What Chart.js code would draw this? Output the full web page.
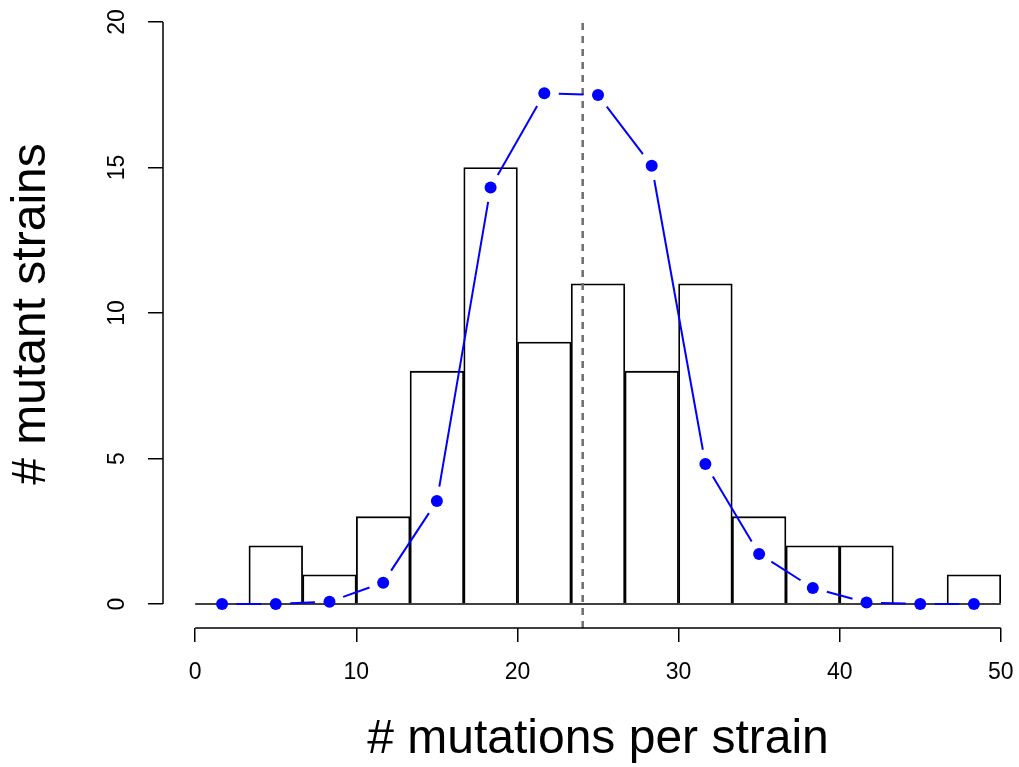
<!DOCTYPE html>
<html>
<head>
<meta charset="utf-8">
<title>Mutations per strain</title>
<script src="https://cdn.jsdelivr.net/npm/chart.js@4.4.1/dist/chart.umd.min.js"></script>
<style>
  html, body { margin: 0; padding: 0; background: #fff; overflow: hidden; }
  canvas { display: block; }
</style>
</head>
<body>
<canvas id="histChart" width="1033" height="767"></canvas>
<script>
// Histogram breaks and counts per bin
const breaks = [0, 3.333, 6.667, 10, 13.333, 16.667, 20, 23.333, 26.667, 30, 33.333, 36.667, 40, 43.333, 46.667, 50];
const counts = [0, 2, 1, 3, 8, 15, 9, 11, 8, 11, 3, 2, 2, 0, 1];

// Expected counts (fitted curve) at each bin midpoint
const expected = [0, 0, 0.08, 0.73, 3.54, 14.31, 17.55, 17.49, 15.06, 4.81, 1.72, 0.55, 0.05, 0, 0];

// Mean number of mutations (dashed line)
const meanMutations = 24.05;

// Axis ticks
const xTicks = [0, 10, 20, 30, 40, 50];
const yTicks = [0, 5, 10, 15, 20];

const FONT = '"Liberation Sans", Arial, Helvetica, sans-serif';
const GAP = 14.5; // gap around points, like R type="b"

const mids = counts.map((c, i) => (breaks[i] + breaks[i + 1]) / 2);

// Draw axis lines from first to last tick, and the gapped blue line
const rStylePlugin = {
    id: 'rStyle',
    afterDatasetsDraw(chart) {
        const idx = chart.data.datasets.findIndex(d => d.label === 'expected');
        const pts = chart.getDatasetMeta(idx).data;
        const ctx = chart.ctx;
        ctx.save();
        ctx.strokeStyle = '#0000ff';
        ctx.lineWidth = 2;
        for (let i = 0; i < pts.length - 1; i++) {
            const a = pts[i], b = pts[i + 1];
            const dx = b.x - a.x, dy = b.y - a.y;
            const len = Math.hypot(dx, dy);
            if (len <= 2 * GAP) continue;
            const ux = dx / len, uy = dy / len;
            ctx.beginPath();
            ctx.moveTo(a.x + ux * GAP, a.y + uy * GAP);
            ctx.lineTo(b.x - ux * GAP, b.y - uy * GAP);
            ctx.stroke();
        }
        ctx.restore();
    },
    afterDraw(chart) {
        const {ctx, chartArea, scales} = chart;
        ctx.save();
        ctx.strokeStyle = '#000';
        ctx.lineWidth = 1.5;
        ctx.beginPath();
        ctx.moveTo(scales.x.getPixelForValue(xTicks[0]), chartArea.bottom);
        ctx.lineTo(scales.x.getPixelForValue(xTicks[xTicks.length - 1]), chartArea.bottom);
        ctx.moveTo(chartArea.left, scales.y.getPixelForValue(yTicks[0]));
        ctx.lineTo(chartArea.left, scales.y.getPixelForValue(yTicks[yTicks.length - 1]));
        ctx.stroke();
        ctx.restore();
    }
};

new Chart(document.getElementById('histChart'), {
    data: {
        datasets: [
            {
                type: 'line',
                label: 'expected',
                data: mids.map((m, i) => ({x: m, y: expected[i]})),
                showLine: false,
                pointRadius: 6,
                pointBorderWidth: 0,
                pointBackgroundColor: '#0000ff',
                clip: false,
                order: 0
            },
            {
                type: 'line',
                label: 'mean',
                data: [{x: meanMutations, y: -0.825}, {x: meanMutations, y: yTicks[yTicks.length - 1]}],
                borderColor: '#6e6e6e',
                borderWidth: 2.5,
                borderDash: [7, 6],
                pointRadius: 0,
                order: 1
            },
            {
                type: 'line',
                label: 'baseline',
                data: [{x: breaks[0], y: 0}, {x: breaks[breaks.length - 1], y: 0}],
                borderColor: '#000',
                borderWidth: 1.5,
                pointRadius: 0,
                order: 2
            },
            {
                type: 'bar',
                label: 'counts',
                data: mids.map((m, i) => ({x: m, y: counts[i]})),
                backgroundColor: '#fff',
                borderColor: '#000',
                borderWidth: 1.8,
                borderSkipped: 'bottom',
                barPercentage: 1,
                categoryPercentage: 1,
                order: 3
            }
        ]
    },
    options: {
        responsive: false,
        animation: false,
        layout: { autoPadding: false, padding: 0 },
        plugins: {
            legend: { display: false },
            tooltip: { enabled: false }
        },
        scales: {
            x: {
                type: 'linear',
                offset: false,
                min: -2,
                max: 52,
                afterBuildTicks: s => { s.ticks = xTicks.map(v => ({value: v})); },
                afterFit: s => { s.height = 139; s.paddingLeft = 0; s.paddingRight = 0; },
                grid: { offset: false, drawOnChartArea: false, drawTicks: true, tickLength: 14, color: '#000', lineWidth: 1.5 },
                border: { display: false },
                ticks: { color: '#000', font: { family: FONT, size: 23 }, padding: 17, maxRotation: 0, autoSkip: false },
                title: {
                    display: true,
                    text: '# mutations per strain',
                    color: '#000',
                    font: { family: FONT, size: 48, lineHeight: 1 },
                    padding: { top: 0, bottom: 3 }
                }
            },
            y: {
                type: 'linear',
                min: -0.825,
                max: 20.756,
                afterBuildTicks: s => { s.ticks = yTicks.map(v => ({value: v})); },
                afterFit: s => { s.width = 163; s.paddingTop = 0; s.paddingBottom = 0; },
                grid: { drawOnChartArea: false, drawTicks: true, tickLength: 15, color: '#000', lineWidth: 1.5 },
                border: { display: false },
                ticks: { color: '#000', font: { family: FONT, size: 23 }, padding: 18, minRotation: 90, maxRotation: 90, crossAlign: 'center', autoSkip: false },
                title: {
                    display: true,
                    text: '# mutant strains',
                    color: '#000',
                    font: { family: FONT, size: 48, lineHeight: 1 },
                    padding: { top: 8, bottom: 0 }
                }
            }
        }
    },
    plugins: [rStylePlugin]
});
</script>
</body>
</html>
